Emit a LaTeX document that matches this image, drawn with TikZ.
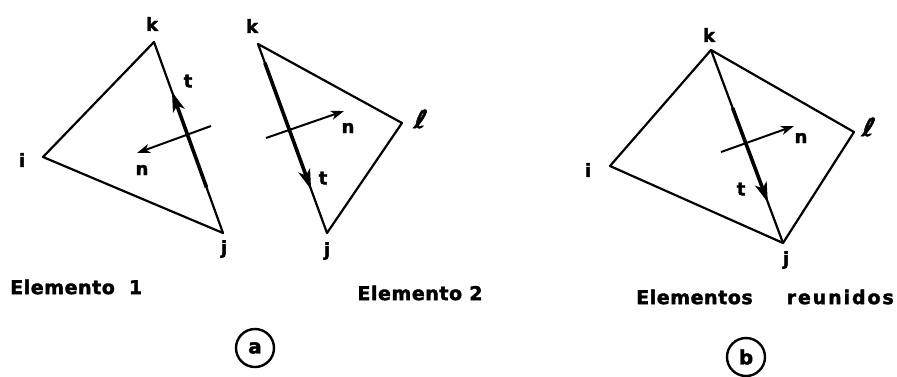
\documentclass[tikz,border=0pt]{standalone}
\usepackage{fontspec}
\setmainfont{DejaVu Sans}
\newfontfamily\labfont[LetterSpace=3,BoldFeatures={FakeBold=2}]{DejaVu Sans}
\newfontfamily\widefont[LetterSpace=10,BoldFeatures={FakeBold=2}]{DejaVu Sans}
\usetikzlibrary{arrows.meta,calc}
\begin{document}
\begin{tikzpicture}[x=1pt,y=-1pt,
  edge/.style={line width=2.2pt, line join=round, line cap=round},
  tarrow/.style={line width=3.6pt, -{Stealth[length=20pt,width=12pt,inset=5pt]}},
  narrow/.style={line width=2pt, -{Stealth[length=13pt,width=9pt,inset=3.5pt]}},
  lbl/.style={font=\labfont\bfseries\fontsize{18}{18}\selectfont, inner sep=0pt},
  elll/.style={font=\labfont\bfseries\fontsize{25}{25}\selectfont, inner sep=0pt, xslant=0.2},
  capt/.style={font=\labfont\bfseries\fontsize{19}{20}\selectfont, inner sep=0pt},
  captwide/.style={font=\widefont\bfseries\fontsize{19}{20}\selectfont, inner sep=0pt},
  tag/.style={circle, draw, line width=2.4pt, minimum size=38pt, inner sep=0pt,
    font=\labfont\bfseries\fontsize{20}{20}\selectfont}
]
\useasboundingbox (0,0) rectangle (897,376);

% ---------- Elemento 1 ----------
\coordinate (k1) at (154,42);
\coordinate (i1) at (43,157);
\coordinate (j1) at (223,233);
\draw[edge] (k1) -- (i1) -- (j1) -- cycle;
\coordinate (t1a) at ($(j1)!0.24!(k1)$);
\coordinate (t1b) at ($(j1)!0.74!(k1)$);
\draw[tarrow] (t1a) -- (t1b);
\coordinate (n1a) at (211,126);
\coordinate (n1b) at (137,153);
\draw[narrow] (n1a) -- (n1b);
\node[lbl] (lk1) at (152,24) {k};
\node[lbl] (lt1) at (188,81) {t};
\node[lbl] (li1) at (22,160) {i};
\node[lbl] (ln1) at (142,170) {n};
\node[lbl] (lj1) at (224,249) {j};

% ---------- Elemento 2 ----------
\coordinate (k2) at (258,44);
\coordinate (l2) at (402,123);
\coordinate (j2) at (327,233);
\draw[edge] (k2) -- (l2) -- (j2) -- cycle;
\coordinate (t2a) at ($(k2)!0.10!(j2)$);
\coordinate (t2b) at ($(k2)!0.77!(j2)$);
\draw[tarrow] (t2a) -- (t2b);
\coordinate (n2a) at (266,138);
\coordinate (n2b) at (344,111);
\draw[narrow] (n2a) -- (n2b);
\node[lbl] (lk2) at (252,26) {k};
\node[elll] (ll2) at (421,119) {ℓ};
\node[lbl] (ln2) at (348,128) {n};
\node[lbl] (lt2) at (323,178) {t};
\node[lbl] (lj2) at (327,251) {j};

% ---------- Elementos reunidos ----------
\coordinate (k3) at (711,50);
\coordinate (i3) at (610,166);
\coordinate (l3) at (854,132);
\coordinate (j3) at (783,243);
\draw[edge] (k3) -- (l3) -- (j3) -- (i3) -- cycle;
\draw[edge] (k3) -- (j3);
\coordinate (t3a) at ($(k3)!0.30!(j3)$);
\coordinate (t3b) at ($(k3)!0.79!(j3)$);
\draw[tarrow] (t3a) -- (t3b);
\coordinate (n3a) at (721,152);
\coordinate (n3b) at (794,126);
\draw[narrow] (n3a) -- (n3b);
\node[lbl] (lk3) at (709,35) {k};
\node[elll] (ll3) at (869,127) {ℓ};
\node[lbl] (li3) at (588,170) {i};
\node[lbl] (ln3) at (801,138) {n};
\node[lbl] (lt3) at (741,189) {t};
\node[lbl] (lj3) at (786,260) {j};

% ---------- captions ----------
\node[capt, anchor=west] (c1) at (10,287) {Elemento\hspace{14pt}1};
\node[capt] (c2) at (420,293) {Elemento 2};
\node[capt, anchor=west] (c3a) at (636,297) {Elementos};
\node[captwide, anchor=east] (c3b) at (894,297) {reunidos};
\node[tag] (ta) at (255,348) {a};
\node[tag] (tb) at (746,357) {b};
\end{tikzpicture}
\end{document}
